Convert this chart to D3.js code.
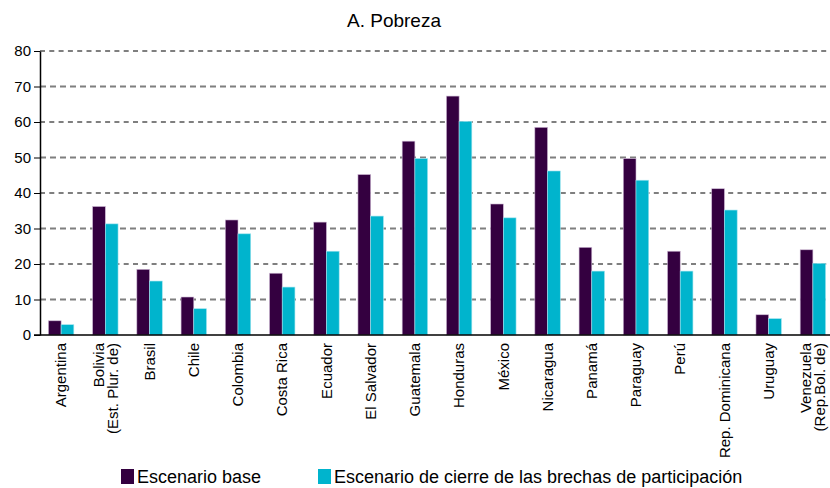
<!DOCTYPE html>
<html>
<head>
<meta charset="utf-8">
<script src="https://cdn.jsdelivr.net/npm/d3@7"></script>
<style>
  html, body { margin: 0; padding: 0; background: #fff; }
  svg { display: block; font-family: "Liberation Sans", Arial, Helvetica, sans-serif; }
</style>
</head>
<body>
<svg id="chart" width="830" height="488"></svg>
<script>
const title = "A. Pobreza";
const categories = [
  "Argentina", "Bolivia\n(Est. Plur. de)", "Brasil", "Chile", "Colombia", "Costa Rica",
  "Ecuador", "El Salvador", "Guatemala", "Honduras", "México", "Nicaragua",
  "Panamá", "Paraguay", "Perú", "Rep. Dominicana", "Uruguay", "Venezuela\n(Rep.Bol. de)"
];
const seriesNames = ["Escenario base", "Escenario de cierre de las brechas de participación"];
const baseValues   = [4.0, 36.2, 18.5, 10.7, 32.4, 17.4, 31.8, 45.2, 54.6, 67.3, 36.9, 58.5, 24.7, 49.7, 23.6, 41.2, 5.7, 24.0];
const cierreValues = [2.9, 31.3, 15.2, 7.4, 28.5, 13.5, 23.6, 33.5, 49.7, 60.2, 33.0, 46.2, 18.0, 43.6, 18.0, 35.2, 4.6, 20.2];
const yTicks = [0, 10, 20, 30, 40, 50, 60, 70, 80];
const colors = ["#340040", "#00B4CD"];

(function () {
const svg = d3.select("#chart");
const W = 830;
const mLeft = 40, mTop = 51, mBottom = 335;

const x0 = d3.scaleBand().domain(categories).range([39, 835]).paddingInner(0.425).paddingOuter(0.2125);
const x1 = d3.scaleBand().domain([0, 1]).range([0, x0.bandwidth()]);
const y = d3.scaleLinear().domain([0, 80]).range([mBottom, mTop]);

// title
svg.append("text").attr("x", 394).attr("y", 27).attr("text-anchor", "middle")
  .attr("font-size", 19).attr("fill", "#000").text(title);

// gridlines
svg.append("g").selectAll("line").data(yTicks.filter(d => d > 0)).join("line")
  .attr("x1", mLeft).attr("x2", W)
  .attr("y1", d => y(d)).attr("y2", d => y(d))
  .attr("stroke", d => (d % 20 === 0) ? "#000" : "#7f7f7f")
  .attr("stroke-width", d => (d % 20 === 0) ? 1.2 : 2)
  .attr("stroke-dasharray", d => (d % 20 === 0) ? "5,4.3" : "6,4");

// bars
const series = [baseValues, cierreValues];
const g = svg.append("g");
series.forEach((vals, si) => {
  g.selectAll(null).data(categories).join("rect")
    .attr("x", (c) => x0(c) + x1(si))
    .attr("width", x1.bandwidth())
    .attr("y", (c, i) => y(vals[i]))
    .attr("height", (c, i) => y(0) - y(vals[i]))
    .attr("fill", colors[si])
    .attr("stroke", si === 0 ? "#cdb8d4" : "#9fe3ee")
    .attr("stroke-width", 0.6);
});

// y axis
const yAxis = d3.axisLeft(y).tickValues(yTicks).tickSize(6).tickPadding(3).tickSizeOuter(0);
const ya = svg.append("g").attr("transform", `translate(${mLeft},0)`).call(yAxis);
ya.select(".domain").attr("stroke", "#000").attr("stroke-width", 1.5);
ya.selectAll(".tick line").attr("stroke", "#000").attr("stroke-width", 1);
ya.selectAll(".tick text").attr("font-size", 15).attr("fill", "#000")
  .attr("font-family", '"Liberation Sans", Arial, sans-serif');

// x baseline
svg.append("line").attr("x1", mLeft - 6).attr("x2", W).attr("y1", y(0)).attr("y2", y(0))
  .attr("stroke", "#000").attr("stroke-width", 1.5);

// x labels
const lh = 14;
const xl = svg.append("g");
categories.forEach(c => {
  const lines = c.split("\n");
  const cx = x0(c) + x0.bandwidth() / 2;
  const t = xl.append("text")
    .attr("transform", `translate(${cx},343) rotate(-90)`)
    .attr("text-anchor", "end").attr("font-size", 15).attr("fill", "#000");
  const off = -(lines.length - 1) * lh / 2;
  lines.forEach((ln, i) => {
    t.append("tspan").attr("x", 0).attr("y", off + i * lh).attr("dy", "0.35em").text(ln);
  });
});

// legend
const legendPos = [{rx: 121, tx: 137}, {rx: 318, tx: 334}];
seriesNames.forEach((name, i) => {
  svg.append("rect").attr("x", legendPos[i].rx).attr("y", 469).attr("width", 13).attr("height", 15)
    .attr("fill", colors[i]);
  svg.append("text").attr("x", legendPos[i].tx).attr("y", 483).attr("font-size", 18)
    .attr("fill", "#000").text(name);
});
})();
</script>
</body>
</html>
